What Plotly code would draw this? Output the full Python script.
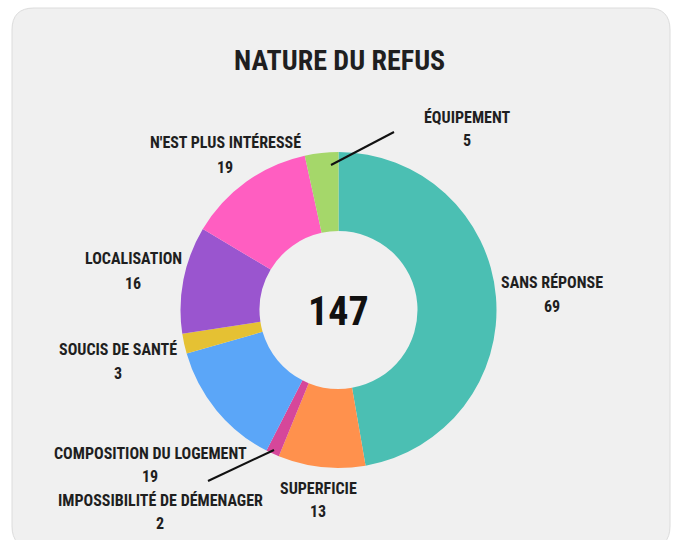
import plotly.graph_objects as go

# Refusal categories, clockwise from 12 o'clock
categories = [
    "SANS RÉPONSE",
    "SUPERFICIE",
    "IMPOSSIBILITÉ DE DÉMENAGER",
    "COMPOSITION DU LOGEMENT",
    "SOUCIS DE SANTÉ",
    "LOCALISATION",
    "N'EST PLUS INTÉRESSÉ",
    "ÉQUIPEMENT",
]
counts = [69, 13, 2, 19, 3, 16, 19, 5]
total_label = "147"
title_text = "NATURE DU REFUS"

colors = ["#4BBFB3", "#FF914D", "#D6479A", "#5BA6F8",
          "#E5C133", "#9A55CF", "#FF5EC1", "#A5D76A"]

W, H = 675, 540
FONT = "Roboto Condensed, DejaVu Sans Condensed, sans-serif"
INK = "#1f1f1f"


def px(x):
    return x / W


def py(y):
    return 1 - y / H


# donut geometry in pixels
cx, cy, R = 338.5, 310, 158

fig = go.Figure(go.Pie(
    labels=categories,
    values=counts,
    hole=0.5,
    sort=False,
    direction="clockwise",
    rotation=0,
    marker=dict(colors=colors, line=dict(width=0)),
    textinfo="none",
    hoverinfo="label+value",
    showlegend=False,
    domain=dict(x=[px(cx - R), px(cx + R)], y=[py(cy + R), py(cy - R)]),
))

# label centres in pixels: (x, y of name line, y of value line)
label_pos = {
    "SANS RÉPONSE": (552, 282, 306),
    "SUPERFICIE": (318, 488, 511),
    "IMPOSSIBILITÉ DE DÉMENAGER": (160, 500, 523),
    "COMPOSITION DU LOGEMENT": (150, 453, 476),
    "SOUCIS DE SANTÉ": (118, 349, 373),
    "LOCALISATION": (133, 258, 283),
    "N'EST PLUS INTÉRESSÉ": (225, 142, 167),
    "ÉQUIPEMENT": (467, 117, 140),
}

label_font = dict(family=FONT, size=16, color=INK, weight="bold")
annotations = []
for name, val in zip(categories, counts):
    x, y_name, y_val = label_pos[name]
    for txt, yy in ((name, y_name), (str(val), y_val)):
        annotations.append(dict(
            x=px(x), y=py(yy), xref="paper", yref="paper",
            text=txt, showarrow=False, font=label_font,
            xanchor="center", yanchor="middle",
        ))

annotations.append(dict(
    x=px(340), y=py(60), xref="paper", yref="paper", text=title_text,
    showarrow=False, xanchor="center", yanchor="middle",
    font=dict(family=FONT, size=28, color=INK, weight="bold"),
))
annotations.append(dict(
    x=px(cx), y=py(312), xref="paper", yref="paper", text=total_label,
    showarrow=False, xanchor="center", yanchor="middle",
    font=dict(family=FONT, size=40, color="#111111", weight="bold"),
))


def rounded_rect(x0, y0, x1, y1, r):
    # SVG path in paper coordinates for a rounded card
    rx, ry = r / W, r / H
    X0, X1 = px(x0), px(x1)
    Y0, Y1 = py(y0), py(y1)
    return (f"M {X0 + rx},{Y0} L {X1 - rx},{Y0} Q {X1},{Y0} {X1},{Y0 - ry} "
            f"L {X1},{Y1 + ry} Q {X1},{Y1} {X1 - rx},{Y1} "
            f"L {X0 + rx},{Y1} Q {X0},{Y1} {X0},{Y1 + ry} "
            f"L {X0},{Y0 - ry} Q {X0},{Y0} {X0 + rx},{Y0} Z")


shapes = [
    dict(type="path", xref="paper", yref="paper", layer="below",
         path=rounded_rect(12, 8, 670, 548, 22),
         fillcolor="#F0F0F0", line=dict(color="#DCDCDC", width=1)),
    # leader lines for the two thin slices
    dict(type="line", xref="paper", yref="paper",
         x0=px(331), y0=py(165), x1=px(394), y1=py(132),
         line=dict(color="#111111", width=2)),
    dict(type="line", xref="paper", yref="paper",
         x0=px(274), y0=py(450), x1=px(208), y1=py(481),
         line=dict(color="#111111", width=2)),
]

fig.update_layout(
    width=W, height=H,
    margin=dict(l=0, r=0, t=0, b=0),
    paper_bgcolor="#FFFFFF",
    plot_bgcolor="#FFFFFF",
    annotations=annotations,
    shapes=shapes,
)

fig.write_html("out.html")
